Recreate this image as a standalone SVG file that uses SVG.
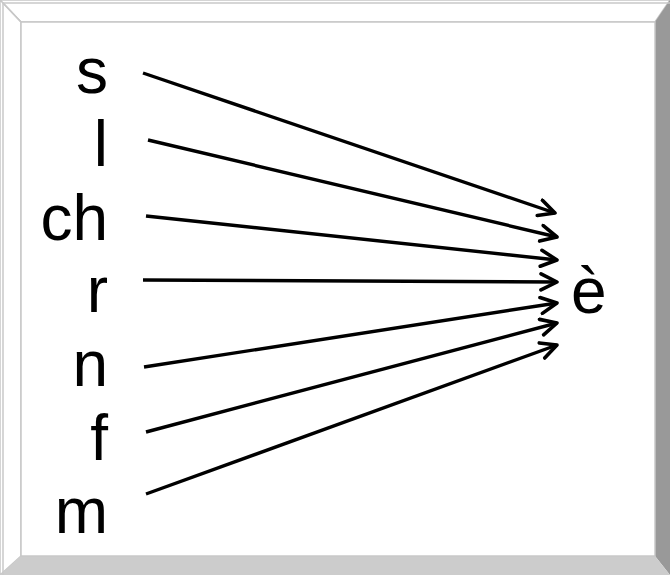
<svg xmlns="http://www.w3.org/2000/svg" width="670" height="575" viewBox="0 0 670 575">
<style>
.lbl{font-family:"Liberation Sans",Arial,sans-serif;font-size:64px;fill:#000;}
.edge{stroke:#000;stroke-width:3.4;fill:none;marker-end:url(#ah);}
.bev{stroke:#c8c8c8;stroke-width:1.5;}
</style>
<defs>
<marker id="ah" markerUnits="userSpaceOnUse" viewBox="0 0 20 20" refX="18" refY="10" markerWidth="20" markerHeight="20" orient="auto">
<path d="M2,2 L18,10 L2,18" fill="none" stroke="#000" stroke-width="3.6" stroke-linecap="round" stroke-linejoin="round"/>
</marker>
</defs>
<g id="frame">
<rect x="0" y="0" width="670" height="575" fill="#fff"/>
<polygon points="0,0 670,0 655,22 21,22" fill="#fff" class="bev"/>
<polygon points="0,0 21,22 21,556 0,575" fill="#fff" class="bev"/>
<polygon points="670,0 670,575 655,556 655,22" fill="#999999"/>
<polygon points="0,575 670,575 655,556 21,556" fill="#cccccc"/>
<line x1="3" y1="3" x2="670" y2="3" class="bev"/>
<line x1="3" y1="3" x2="3" y2="575" class="bev"/>
<line x1="3" y1="3" x2="21" y2="22" class="bev"/>
<rect x="21" y="22" width="634" height="534" fill="#fff" class="bev"/>
</g>
<g id="connectors">
<line class="edge" x1="143" y1="73" x2="555" y2="213"/>
<line class="edge" x1="148" y1="140" x2="557" y2="237"/>
<line class="edge" x1="146" y1="216" x2="557" y2="260"/>
<line class="edge" x1="143" y1="280" x2="557" y2="282"/>
<line class="edge" x1="144" y1="367" x2="557" y2="303"/>
<line class="edge" x1="146" y1="432" x2="557" y2="323"/>
<line class="edge" x1="146" y1="494" x2="557" y2="345"/>
</g>
<g id="n-s"><text class="lbl" x="108" y="93" text-anchor="end">s</text></g>
<g id="n-l"><text class="lbl" x="108" y="166" text-anchor="end">l</text></g>
<g id="n-ch"><text class="lbl" x="108" y="240" text-anchor="end">ch</text></g>
<g id="n-r"><text class="lbl" x="108" y="312" text-anchor="end">r</text></g>
<g id="n-n"><text class="lbl" x="108" y="386" text-anchor="end">n</text></g>
<g id="n-f"><text class="lbl" x="108" y="460" text-anchor="end">f</text></g>
<g id="n-m"><text class="lbl" x="108" y="533" text-anchor="end">m</text></g>
<g id="n-e"><text class="lbl" x="571" y="313">è</text></g>
</svg>
